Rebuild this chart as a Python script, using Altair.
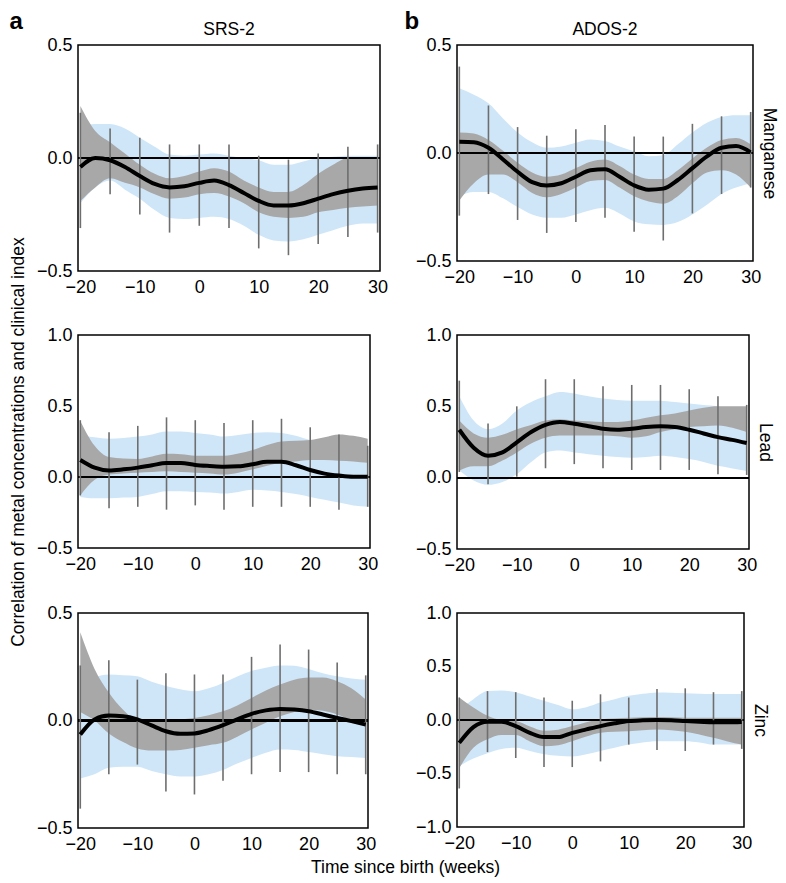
import altair as alt
import pandas as pd

# ---------------- data ----------------
X_CURVE = [-20, -17.5, -15, -12.5, -10, -7.5, -5, -2.5, 0, 2.5, 5, 7.5,
           10, 12.5, 15, 17.5, 20, 22.5, 25, 27.5, 30]
X_BARS = [-20, -15, -10, -5, 0, 5, 10, 15, 20, 25, 30]
X_TICKS = [-20, -10, 0, 10, 20, 30]

# a: SRS-2 / Manganese
A1_LINE = [-0.04, 0.0, -0.01, -0.04, -0.08, -0.115, -0.13, -0.125, -0.11, -0.10, -0.12, -0.155,
           -0.19, -0.21, -0.21, -0.20, -0.18, -0.16, -0.145, -0.135, -0.13]
A1_GHI = [0.23, 0.12, 0.07, 0.02, -0.03, -0.07, -0.09, -0.08, -0.06, -0.045, -0.06, -0.10,
          -0.13, -0.15, -0.15, -0.12, -0.07, -0.03, 0.0, 0.0, 0.0]
A1_GLO = [-0.19, -0.13, -0.09, -0.11, -0.13, -0.16, -0.18, -0.175, -0.16, -0.155, -0.17, -0.20,
          -0.24, -0.26, -0.265, -0.26, -0.24, -0.23, -0.22, -0.215, -0.21]
A1_BHI = [0.14, 0.15, 0.15, 0.13, 0.09, 0.05, 0.015, 0.01, 0.015, 0.02, 0.01, 0.0,
          -0.01, -0.03, -0.03, -0.015, 0.0, 0.005, 0.01, 0.01, 0.01]
A1_BLO = [-0.20, -0.13, -0.10, -0.14, -0.18, -0.23, -0.265, -0.27, -0.265, -0.26, -0.27, -0.30,
          -0.34, -0.365, -0.37, -0.36, -0.34, -0.32, -0.30, -0.29, -0.29]
A1_BAR_HI = [0.20, 0.13, 0.09, 0.06, 0.06, 0.06, 0.01, -0.007, 0.02, 0.05, 0.06]
A1_BAR_LO = [-0.31, -0.16, -0.25, -0.33, -0.30, -0.31, -0.40, -0.43, -0.38, -0.35, -0.33]

# b: ADOS-2 / Manganese
B1_LINE = [0.052, 0.05, 0.024, -0.03, -0.087, -0.135, -0.15, -0.14, -0.11, -0.08, -0.075, -0.11,
           -0.15, -0.17, -0.165, -0.125, -0.07, -0.016, 0.024, 0.032, 0.003]
B1_GHI = [0.095, 0.09, 0.06, 0.01, -0.045, -0.09, -0.11, -0.10, -0.07, -0.04, -0.03, -0.06,
          -0.10, -0.12, -0.12, -0.08, -0.025, 0.025, 0.06, 0.07, 0.04]
B1_GLO = [-0.22, -0.14, -0.10, -0.10, -0.135, -0.185, -0.205, -0.19, -0.16, -0.13, -0.125, -0.16,
          -0.20, -0.225, -0.235, -0.20, -0.14, -0.09, -0.08, -0.10, -0.16]
B1_BHI = [0.30, 0.27, 0.23, 0.16, 0.095, 0.05, 0.024, 0.03, 0.048, 0.063, 0.056, 0.03,
          0.008, -0.015, -0.01, 0.04, 0.095, 0.14, 0.167, 0.175, 0.175]
B1_BLO = [-0.20, -0.18, -0.18, -0.21, -0.25, -0.285, -0.30, -0.30, -0.285, -0.265, -0.254, -0.28,
          -0.317, -0.33, -0.333, -0.32, -0.285, -0.24, -0.19, -0.16, -0.14]
B1_BAR_HI = [0.40, 0.22, 0.12, 0.08, 0.11, 0.13, 0.076, 0.076, 0.135, 0.17, 0.19]
B1_BAR_LO = [-0.29, -0.19, -0.31, -0.37, -0.32, -0.30, -0.365, -0.405, -0.28, -0.19, -0.16]

# a: SRS-2 / Lead
A2_LINE = [0.12, 0.066, 0.046, 0.054, 0.066, 0.083, 0.098, 0.098, 0.085, 0.078, 0.073, 0.075,
           0.09, 0.107, 0.107, 0.083, 0.049, 0.024, 0.01, 0.002, 0.002]
A2_GHI = [0.395, 0.22, 0.14, 0.13, 0.127, 0.145, 0.163, 0.16, 0.15, 0.15, 0.15, 0.165,
          0.19, 0.225, 0.25, 0.255, 0.26, 0.28, 0.30, 0.29, 0.27]
A2_GLO = [-0.13, -0.02, 0.017, 0.025, 0.03, 0.035, 0.04, 0.035, 0.03, 0.025, 0.017, 0.03,
          0.054, 0.08, 0.10, 0.11, 0.12, 0.12, 0.115, 0.11, 0.10]
A2_BHI = [0.29, 0.28, 0.27, 0.275, 0.285, 0.30, 0.32, 0.32, 0.31, 0.30, 0.285, 0.295,
          0.31, 0.315, 0.31, 0.29, 0.26, 0.24, 0.22, 0.22, 0.22]
A2_BLO = [-0.14, -0.15, -0.15, -0.145, -0.14, -0.12, -0.10, -0.10, -0.105, -0.11, -0.117, -0.105,
          -0.09, -0.095, -0.105, -0.12, -0.14, -0.16, -0.18, -0.20, -0.21]
A2_BAR_HI = [0.40, 0.315, 0.36, 0.42, 0.40, 0.38, 0.40, 0.41, 0.35, 0.30, 0.22]
A2_BAR_LO = [-0.13, -0.22, -0.21, -0.23, -0.20, -0.23, -0.21, -0.21, -0.21, -0.23, -0.21]

# b: ADOS-2 / Lead
B2_LINE = [0.336, 0.21, 0.154, 0.177, 0.248, 0.32, 0.37, 0.39, 0.378, 0.36, 0.343, 0.336,
           0.343, 0.355, 0.36, 0.355, 0.336, 0.31, 0.284, 0.265, 0.243]
B2_GHI = [0.40, 0.31, 0.28, 0.30, 0.34, 0.37, 0.40, 0.41, 0.40, 0.395, 0.39, 0.39,
          0.40, 0.42, 0.437, 0.45, 0.47, 0.49, 0.50, 0.50, 0.50]
B2_GLO = [0.05, 0.08, 0.08, 0.12, 0.177, 0.24, 0.28, 0.295, 0.295, 0.295, 0.295, 0.29,
          0.28, 0.29, 0.32, 0.34, 0.355, 0.36, 0.366, 0.35, 0.32]
B2_BHI = [0.57, 0.40, 0.34, 0.38, 0.47, 0.53, 0.57, 0.60, 0.59, 0.57, 0.555, 0.545,
          0.54, 0.54, 0.54, 0.53, 0.52, 0.51, 0.50, 0.48, 0.47]
B2_BLO = [0.05, -0.02, -0.05, -0.03, 0.024, 0.11, 0.177, 0.19, 0.177, 0.165, 0.154, 0.145,
          0.14, 0.145, 0.154, 0.145, 0.13, 0.11, 0.083, 0.065, 0.047]
B2_BAR_HI = [0.68, 0.38, 0.50, 0.69, 0.69, 0.64, 0.65, 0.65, 0.62, 0.57, 0.51]
B2_BAR_LO = [0.04, -0.047, 0.007, 0.066, 0.095, 0.066, 0.054, 0.054, 0.054, 0.024, 0.019]

# a: SRS-2 / Zinc
A3_LINE = [-0.065, 0.005, 0.023, 0.02, 0.005, -0.023, -0.05, -0.062, -0.06, -0.045, -0.022, 0.005,
           0.031, 0.047, 0.054, 0.051, 0.043, 0.028, 0.012, -0.003, -0.019]
A3_GHI = [0.41, 0.24, 0.13, 0.05, 0.0, -0.005, 0.0, 0.005, 0.012, 0.025, 0.043, 0.07,
          0.105, 0.14, 0.167, 0.19, 0.20, 0.20, 0.183, 0.15, 0.098]
A3_GLO = [0.04, 0.0, -0.06, -0.10, -0.13, -0.14, -0.14, -0.137, -0.127, -0.115, -0.104, -0.075,
          -0.042, -0.01, 0.02, 0.04, 0.05, 0.045, 0.028, 0.0, -0.026]
A3_BHI = [0.10, 0.20, 0.214, 0.21, 0.206, 0.18, 0.16, 0.145, 0.136, 0.15, 0.175, 0.205,
          0.23, 0.245, 0.256, 0.255, 0.24, 0.22, 0.206, 0.195, 0.19]
A3_BLO = [-0.27, -0.25, -0.22, -0.215, -0.215, -0.235, -0.25, -0.26, -0.26, -0.25, -0.23, -0.20,
          -0.174, -0.15, -0.135, -0.137, -0.147, -0.157, -0.166, -0.17, -0.174]
A3_BAR_HI = [0.256, 0.28, 0.19, 0.22, 0.214, 0.214, 0.296, 0.353, 0.33, 0.27, 0.21]
A3_BAR_LO = [-0.41, -0.25, -0.205, -0.33, -0.344, -0.28, -0.25, -0.24, -0.24, -0.25, -0.25]

# b: ADOS-2 / Zinc
B3_LINE = [-0.214, -0.066, -0.016, -0.016, -0.057, -0.12, -0.16, -0.16, -0.12, -0.088, -0.057, -0.031,
           -0.01, -0.003, 0.0, -0.003, -0.01, -0.016, -0.022, -0.022, -0.019]
B3_GHI = [0.21, 0.116, 0.04, 0.0, -0.01, -0.06, -0.10, -0.09, -0.057, -0.02, 0.006, 0.015,
          0.022, 0.025, 0.028, 0.025, 0.022, 0.022, 0.022, 0.022, 0.022]
B3_GLO = [-0.45, -0.26, -0.18, -0.14, -0.14, -0.20, -0.245, -0.235, -0.198, -0.155, -0.12, -0.11,
          -0.104, -0.095, -0.088, -0.095, -0.11, -0.135, -0.167, -0.20, -0.23]
B3_BHI = [0.10, 0.195, 0.27, 0.275, 0.26, 0.22, 0.18, 0.14, 0.10, 0.12, 0.163, 0.195,
          0.226, 0.245, 0.258, 0.255, 0.25, 0.245, 0.242, 0.242, 0.242]
B3_BLO = [-0.43, -0.36, -0.31, -0.27, -0.26, -0.29, -0.32, -0.335, -0.34, -0.32, -0.29, -0.26,
          -0.23, -0.21, -0.198, -0.198, -0.198, -0.21, -0.23, -0.23, -0.23]
B3_BAR_HI = [0.21, 0.27, 0.26, 0.21, 0.18, 0.24, 0.21, 0.29, 0.296, 0.26, 0.27]
B3_BAR_LO = [-0.64, -0.30, -0.355, -0.44, -0.44, -0.387, -0.23, -0.28, -0.29, -0.23, -0.27]

# ---------------- style ----------------
FONT = "Liberation Sans"
BLUE = "#cfe6f8"
GREY = "#a8a8a8"
BAR = "#6e6e6e"
X_DOMAIN = [-20.4, 30.4]
TICK_FS = 18
TITLE_FS = 17.5


def panel(line, ghi, glo, bhi, blo, bar_hi, bar_lo, ydom, yvals, w, h,
          title="", row_label="", ytitle="", xtitle="", letter="", letter_dx=-69):
    curve = pd.DataFrame({"x": X_CURVE, "line": line, "ghi": ghi, "glo": glo,
                          "bhi": bhi, "blo": blo})
    bars = pd.DataFrame({"x": X_BARS, "hi": bar_hi, "lo": bar_lo})

    xscale = alt.Scale(domain=X_DOMAIN, nice=False, zero=False)
    yscale = alt.Scale(domain=ydom, nice=False, zero=False)

    xaxis_kw = dict(values=X_TICKS, ticks=False, domain=False, grid=False,
                    labelPadding=7, labelFontSize=TICK_FS, labelColor="black", labelFont=FONT)
    if xtitle:
        xaxis_kw.update(titleFontSize=TITLE_FS, titleFontWeight="normal", titleFont=FONT,
                        titleColor="black", titleX=327, titlePadding=5)
    yaxis_kw = dict(values=yvals, format=".1f", ticks=False, domain=False, grid=False,
                    labelPadding=6, labelFontSize=TICK_FS, labelColor="black", labelFont=FONT)
    if ytitle:
        yaxis_kw.update(titleFontSize=TITLE_FS, titleFontWeight="normal", titleFont=FONT,
                        titleColor="black", titlePadding=9)
    if letter:
        yaxis_kw.update(titleFontSize=24, titleFontWeight="bold", titleFont=FONT,
                        titleColor="black", titleAngle=0, titleAlign="left",
                        titleBaseline="alphabetic", titleX=letter_dx, titleY=-17)

    x_enc = alt.X("x:Q", scale=xscale, axis=alt.Axis(**xaxis_kw),
                  title=xtitle if xtitle else None)
    ytxt = ytitle or letter
    y_enc = alt.Y("bhi:Q", scale=yscale, axis=alt.Axis(**yaxis_kw),
                  title=ytxt if ytxt else None)

    indep = bool(row_label)

    def yy(field):
        return alt.Y(field, axis=None) if indep else alt.Y(field)

    blue = alt.Chart(curve).mark_area(color=BLUE, interpolate="monotone").encode(
        x=x_enc, y=y_enc, y2="blo:Q")
    grey = alt.Chart(curve).mark_area(color=GREY, interpolate="monotone").encode(
        x="x:Q", y=yy("ghi:Q"), y2="glo:Q")
    zero_y = alt.Y(datum=0, axis=None) if indep else alt.Y(datum=0)
    zero = alt.Chart(curve).mark_rule(color="black", strokeWidth=1.3).encode(y=zero_y)
    err = alt.Chart(bars).mark_rule(color=BAR, strokeWidth=1.6).encode(
        x="x:Q", y=yy("hi:Q"), y2="lo:Q")
    ln = alt.Chart(curve).mark_line(color="black", strokeWidth=4,
                                   interpolate="monotone").encode(x="x:Q", y=yy("line:Q"))
    layers = [blue, grey, zero, err, ln]
    if indep:
        lab = alt.Chart(curve).mark_line(opacity=0).encode(
            x="x:Q",
            y=alt.Y("line:Q", title=row_label,
                    axis=alt.Axis(orient="right", labels=False, ticks=False, domain=False,
                                  grid=False, titleAngle=90,
                                  titleFontSize=TITLE_FS, titleFontWeight="normal",
                                  titleFont=FONT, titleColor="black", titlePadding=6)))
        layers.append(lab)
        ch = alt.layer(*layers).resolve_axis(y="independent")
    else:
        ch = alt.layer(*layers)
    props = dict(width=w, height=h)
    if title:
        props["title"] = alt.TitleParams(title, fontSize=TITLE_FS, fontWeight="normal",
                                         font=FONT, color="black", offset=-29)
    return ch.properties(**props)


a1 = panel(A1_LINE, A1_GHI, A1_GLO, A1_BHI, A1_BLO, A1_BAR_HI, A1_BAR_LO,
           [-0.5, 0.5], [-0.5, 0.0, 0.5], 302, 226, title="SRS-2", letter="a", letter_dx=-69)
a2 = panel(A2_LINE, A2_GHI, A2_GLO, A2_BHI, A2_BLO, A2_BAR_HI, A2_BAR_LO,
           [-0.5, 1.0], [-0.5, 0.0, 0.5, 1.0], 292, 213,
           ytitle="Correlation of metal concentrations and clinical index")
a3 = panel(A3_LINE, A3_GHI, A3_GLO, A3_BHI, A3_BLO, A3_BAR_HI, A3_BAR_LO,
           [-0.5, 0.5], [-0.5, 0.0, 0.5], 290, 215, xtitle="Time since birth (weeks)")

b1 = panel(B1_LINE, B1_GHI, B1_GLO, B1_BHI, B1_BLO, B1_BAR_HI, B1_BAR_LO,
           [-0.5, 0.5], [-0.5, 0.0, 0.5], 296, 216, title="ADOS-2", row_label="Manganese",
           letter="b", letter_dx=-53)
b2 = panel(B2_LINE, B2_GHI, B2_GLO, B2_BHI, B2_BLO, B2_BAR_HI, B2_BAR_LO,
           [-0.5, 1.0], [-0.5, 0.0, 0.5, 1.0], 292, 214, row_label="Lead")
b3 = panel(B3_LINE, B3_GHI, B3_GLO, B3_BHI, B3_BLO, B3_BAR_HI, B3_BAR_LO,
           [-1.0, 1.0], [-1.0, -0.5, 0.0, 0.5, 1.0], 287, 214, row_label="Zinc")

chart = alt.concat(a1, b1, a2, b2, a3, b3, columns=2, bounds="flush",
                   spacing={"row": 64, "column": 77}).properties(
    padding={"left": 0, "top": 0, "right": 0, "bottom": 0}
).configure(font=FONT).configure_view(stroke="black", strokeWidth=1.5)

chart.save("out.html", embed_options={"renderer": "svg", "actions": False})
